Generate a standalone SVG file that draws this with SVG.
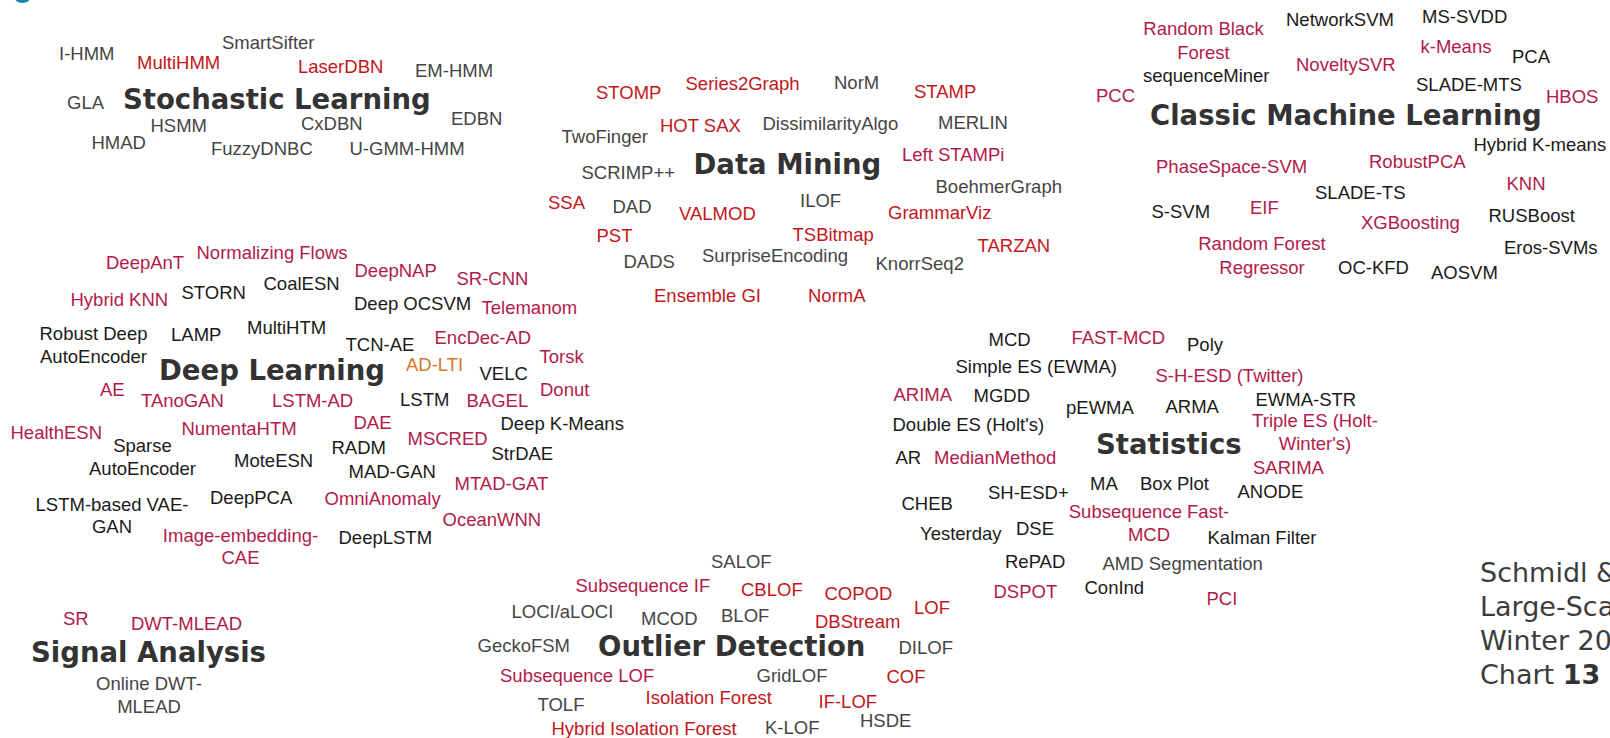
<svg xmlns="http://www.w3.org/2000/svg" width="1610" height="738" viewBox="0 0 1610 738">
<style>
text{font-family:"Liberation Sans",Arial,sans-serif;font-size:18.5px}
.g{fill:#454545}
.k{fill:#1a1a1a}
.r{fill:#c3161c}
.c{fill:#b21a4b}
.o{fill:#d9772a}
.m{text-anchor:middle}
.t{font-family:"DejaVu Sans",Verdana,sans-serif;font-weight:bold;font-size:27.5px;fill:#333}
.f{font-family:"DejaVu Sans",Verdana,sans-serif;font-size:27px;fill:#3c3c3c}
</style>
<rect width="1610" height="738" fill="#fff"/>
<ellipse id="logo" cx="22.5" cy="-3" rx="8" ry="6" fill="#1b86a3"/>
<g id="connectors"/>

<g id="stochastic-learning">
<text class="t" x="123" y="108.5">Stochastic Learning</text>
<text class="g" x="59" y="60">I-HMM</text>
<text class="g" x="222" y="48.5">SmartSifter</text>
<text class="r" x="137" y="69">MultiHMM</text>
<text class="r" x="298" y="72.5">LaserDBN</text>
<text class="g" x="415" y="76.5">EM-HMM</text>
<text class="g" x="67" y="109">GLA</text>
<text class="g" x="451" y="125">EDBN</text>
<text class="g" x="150.5" y="131.5">HSMM</text>
<text class="g" x="301" y="129.5">CxDBN</text>
<text class="g" x="91.5" y="148.5">HMAD</text>
<text class="g" x="211" y="155">FuzzyDNBC</text>
<text class="g" x="349.5" y="155">U-GMM-HMM</text>
</g>

<g id="data-mining">
<text class="t" x="693.5" y="174">Data Mining</text>
<text class="r" x="596" y="99">STOMP</text>
<text class="r" x="685.5" y="90">Series2Graph</text>
<text class="g" x="834" y="89">NorM</text>
<text class="r" x="914" y="97.5">STAMP</text>
<text class="r" x="660" y="131.5">HOT SAX</text>
<text class="g" x="762.5" y="129.5">DissimilarityAlgo</text>
<text class="g" x="938" y="129">MERLIN</text>
<text class="g" x="561.5" y="143">TwoFinger</text>
<text class="c" x="902" y="160.5">Left STAMPi</text>
<text class="g" x="581.5" y="179">SCRIMP++</text>
<text class="g" x="935.5" y="193">BoehmerGraph</text>
<text class="r" x="548" y="208.5">SSA</text>
<text class="g" x="612.5" y="212.5">DAD</text>
<text class="g" x="800" y="206.5">ILOF</text>
<text class="r" x="679" y="219.5">VALMOD</text>
<text class="r" x="888" y="218.5">GrammarViz</text>
<text class="r" x="596.5" y="241.5">PST</text>
<text class="r" x="792.5" y="240.5">TSBitmap</text>
<text class="r" x="977.5" y="251.5">TARZAN</text>
<text class="g" x="623.5" y="267.5">DADS</text>
<text class="g" x="702" y="261.5">SurpriseEncoding</text>
<text class="g" x="875.5" y="269.5">KnorrSeq2</text>
<text class="r" x="654" y="301.5">Ensemble GI</text>
<text class="r" x="808" y="301.5">NormA</text>
</g>

<g id="classic-machine-learning">
<text class="t" x="1150" y="125">Classic Machine Learning</text>
<text class="c m" x="1203.5" y="35">Random Black<tspan x="1203.5" y="58.5">Forest</tspan></text>
<text class="k" x="1286" y="25.5">NetworkSVM</text>
<text class="k" x="1422" y="22.5">MS-SVDD</text>
<text class="c" x="1420.5" y="52.5">k-Means</text>
<text class="k" x="1512" y="62.5">PCA</text>
<text class="c" x="1296" y="70.5">NoveltySVR</text>
<text class="k" x="1143" y="81.5">sequenceMiner</text>
<text class="k" x="1416" y="91">SLADE-MTS</text>
<text class="c" x="1096" y="101.5">PCC</text>
<text class="c" x="1546" y="102.5">HBOS</text>
<text class="k" x="1473.5" y="150.5">Hybrid K-means</text>
<text class="c" x="1369" y="167.5">RobustPCA</text>
<text class="c" x="1156" y="172.5">PhaseSpace-SVM</text>
<text class="c" x="1506.5" y="190">KNN</text>
<text class="k" x="1315" y="198.5">SLADE-TS</text>
<text class="k" x="1151.5" y="217.5">S-SVM</text>
<text class="c" x="1250" y="214">EIF</text>
<text class="c" x="1361" y="229">XGBoosting</text>
<text class="k" x="1488.5" y="221.5">RUSBoost</text>
<text class="c m" x="1262" y="250">Random Forest<tspan x="1262" y="273.5">Regressor</tspan></text>
<text class="k" x="1504" y="254">Eros-SVMs</text>
<text class="k" x="1338" y="273.5">OC-KFD</text>
<text class="k" x="1431" y="278.5">AOSVM</text>
</g>

<g id="deep-learning">
<text class="t" x="159" y="379.5">Deep Learning</text>
<text class="c" x="106" y="268.5">DeepAnT</text>
<text class="c" x="196.5" y="259">Normalizing Flows</text>
<text class="c" x="354.5" y="276.5">DeepNAP</text>
<text class="c" x="456.5" y="285">SR-CNN</text>
<text class="c" x="70.5" y="306">Hybrid KNN</text>
<text class="k" x="181.5" y="298.5">STORN</text>
<text class="k" x="263.5" y="289.5">CoalESN</text>
<text class="k" x="354" y="310">Deep OCSVM</text>
<text class="c" x="481.5" y="314">Telemanom</text>
<text class="k m" x="93.5" y="340">Robust Deep<tspan x="93.5" y="362.5">AutoEncoder</tspan></text>
<text class="k" x="171" y="341">LAMP</text>
<text class="k" x="247" y="333.5">MultiHTM</text>
<text class="k" x="345.5" y="350.5">TCN-AE</text>
<text class="c" x="434.5" y="343.5">EncDec-AD</text>
<text class="c" x="539.5" y="362.5">Torsk</text>
<text class="o" x="406" y="370.5">AD-LTI</text>
<text class="k" x="479.5" y="379.5">VELC</text>
<text class="c" x="540" y="396">Donut</text>
<text class="c" x="100" y="396">AE</text>
<text class="c" x="141" y="406.5">TAnoGAN</text>
<text class="c" x="272" y="406.5">LSTM-AD</text>
<text class="k" x="400" y="405.5">LSTM</text>
<text class="c" x="466.5" y="406.5">BAGEL</text>
<text class="c" x="353.5" y="428.5">DAE</text>
<text class="k" x="500.5" y="430">Deep K-Means</text>
<text class="c" x="10.5" y="439">HealthESN</text>
<text class="c" x="181.5" y="435">NumentaHTM</text>
<text class="c" x="407.5" y="445">MSCRED</text>
<text class="k m" x="142.5" y="451.5">Sparse<tspan x="142.5" y="474.5">AutoEncoder</tspan></text>
<text class="k" x="234" y="466.5">MoteESN</text>
<text class="k" x="331.5" y="453.5">RADM</text>
<text class="k" x="491.5" y="459.5">StrDAE</text>
<text class="k" x="348.5" y="477.5">MAD-GAN</text>
<text class="c" x="454.5" y="489.5">MTAD-GAT</text>
<text class="k m" x="112" y="511">LSTM-based VAE-<tspan x="112" y="533">GAN</tspan></text>
<text class="k" x="210" y="504">DeepPCA</text>
<text class="c" x="324.5" y="505">OmniAnomaly</text>
<text class="c" x="442.5" y="526">OceanWNN</text>
<text class="c m" x="240.5" y="541.5">Image-embedding-<tspan x="240.5" y="563.5">CAE</tspan></text>
<text class="k" x="338.5" y="543.5">DeepLSTM</text>
</g>

<g id="signal-analysis">
<text class="t" x="31" y="661.5">Signal Analysis</text>
<text class="c" x="63" y="625">SR</text>
<text class="c" x="131" y="629.5">DWT-MLEAD</text>
<text class="g m" x="149" y="690">Online DWT-<tspan x="149" y="712.5">MLEAD</tspan></text>
</g>

<g id="outlier-detection">
<text class="t" x="598" y="655.5">Outlier Detection</text>
<text class="g" x="711" y="567.5">SALOF</text>
<text class="c" x="575.5" y="591.5">Subsequence IF</text>
<text class="r" x="741" y="596">CBLOF</text>
<text class="r" x="824.5" y="600">COPOD</text>
<text class="r" x="914" y="613.5">LOF</text>
<text class="g" x="511.5" y="617.5">LOCI/aLOCI</text>
<text class="g" x="641" y="624.5">MCOD</text>
<text class="g" x="721" y="621.5">BLOF</text>
<text class="r" x="815" y="627.5">DBStream</text>
<text class="g" x="477.5" y="651.5">GeckoFSM</text>
<text class="g" x="898.5" y="653.5">DILOF</text>
<text class="c" x="500" y="681.5">Subsequence LOF</text>
<text class="g" x="756.5" y="681.5">GridLOF</text>
<text class="r" x="886.5" y="682.5">COF</text>
<text class="g" x="537.5" y="711">TOLF</text>
<text class="r" x="645.5" y="703.5">Isolation Forest</text>
<text class="r" x="818.5" y="707.5">IF-LOF</text>
<text class="g" x="860" y="726.5">HSDE</text>
<text class="r" x="551.5" y="735">Hybrid Isolation Forest</text>
<text class="g" x="765" y="733.5">K-LOF</text>
</g>

<g id="statistics">
<text class="t" x="1096" y="453.5">Statistics</text>
<text class="k" x="988.5" y="346">MCD</text>
<text class="c" x="1071.5" y="344">FAST-MCD</text>
<text class="k" x="1187" y="351">Poly</text>
<text class="k" x="955.5" y="372.5">Simple ES (EWMA)</text>
<text class="c" x="1155.5" y="381.5">S-H-ESD (Twitter)</text>
<text class="c" x="893.5" y="401">ARIMA</text>
<text class="k" x="973.5" y="401.5">MGDD</text>
<text class="k" x="1066" y="413.5">pEWMA</text>
<text class="k" x="1165.5" y="412.5">ARMA</text>
<text class="k" x="1255.5" y="406">EWMA-STR</text>
<text class="k" x="892.5" y="431">Double ES (Holt's)</text>
<text class="c m" x="1315" y="426.5">Triple ES (Holt-<tspan x="1315" y="449.5">Winter's)</tspan></text>
<text class="k" x="895.5" y="463.5">AR</text>
<text class="c" x="934" y="463.5">MedianMethod</text>
<text class="c" x="1253" y="474">SARIMA</text>
<text class="k" x="1090" y="490">MA</text>
<text class="k" x="1140" y="490">Box Plot</text>
<text class="k" x="1237.5" y="497.5">ANODE</text>
<text class="k" x="988" y="499">SH-ESD+</text>
<text class="k" x="901.5" y="509.5">CHEB</text>
<text class="c m" x="1149" y="517.5">Subsequence Fast-<tspan x="1149" y="540.5">MCD</tspan></text>
<text class="k" x="920" y="539.5">Yesterday</text>
<text class="k" x="1016" y="535">DSE</text>
<text class="k" x="1207.5" y="543.5">Kalman Filter</text>
<text class="k" x="1005" y="567.5">RePAD</text>
<text class="g" x="1102.5" y="569.5">AMD Segmentation</text>
<text class="c" x="993.5" y="597.5">DSPOT</text>
<text class="k" x="1084.5" y="593.5">ConInd</text>
<text class="c" x="1206.5" y="605">PCI</text>
</g>

<g id="footer">
<text class="f" x="1480" y="582">Schmidl &amp;</text>
<text class="f" x="1480" y="616">Large-Sca</text>
<text class="f" x="1480" y="649.5">Winter 20</text>
<text class="f" x="1480" y="684">Chart <tspan font-weight="bold" fill="#333">13</tspan></text>
</g>
</svg>
